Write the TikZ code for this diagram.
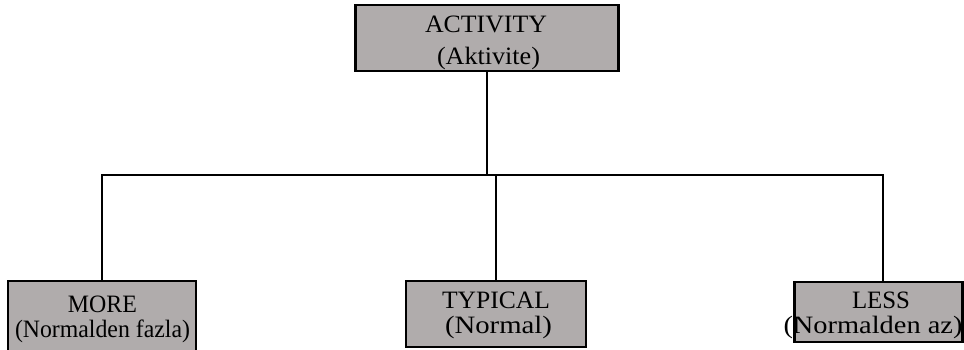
\documentclass[tikz,border=0pt]{standalone}
\usepackage{fontspec}
\setmainfont{Liberation Serif}
\usepackage{graphicx}
% set a line of text at a given width, keeping its height
\newcommand{\fitw}[2]{\resizebox{#1}{\height}{#2}}
\definecolor{boxgray}{RGB}{176,172,172}
\tikzset{
  catbox/.style={draw=black, fill=boxgray, line width=2.5pt, rectangle, inner sep=0pt, outer sep=0pt},
  catline/.style={anchor=base, inner sep=0pt, font=\fontsize{25}{30}\selectfont},
  link/.style={draw=black, line width=2.5pt, line join=miter}
}
\begin{document}
\begin{tikzpicture}[x=1pt, y=-1pt]
  \useasboundingbox (0,0) rectangle (964,350);
  \clip (0,0) rectangle (964,350);

  % boxes
  \node[catbox, minimum width=263pt, minimum height=66pt] (act) at (487,38) {};
  \node[catbox, minimum width=188pt, minimum height=80pt] (more) at (102,321) {};
  \node[catbox, minimum width=180pt, minimum height=66pt] (typ) at (496,314) {};
  \node[catbox, minimum width=168pt, minimum height=60pt] (less) at (878.5,312) {};

  % labels
  \node[catline] (actA) at (486,33) {\fitw{122pt}{ACTIVITY}};
  \node[catline] (actB) at (488.5,65) {\fitw{103pt}{(Aktivite)}};
  \node[catline] (moreA) at (102.5,312) {\fitw{69pt}{MORE}};
  \node[catline] (moreB) at (102.5,337) {\fitw{175pt}{(Normalden fazla)}};
  \node[catline] (typA) at (496,308) {\fitw{108pt}{TYPICAL}};
  \node[catline] (typB) at (498.5,333) {\fitw{107pt}{(Normal)}};
  \node[catline] (lessA) at (881,308) {\fitw{58pt}{LESS}};
  \node[catline] (lessB) at (873,333) {\fitw{179pt}{(Normalden az)}};

  % branching connectors
  \coordinate (hl) at (102,175);
  \coordinate (hr) at (883,175);
  \draw[link] (act.south) -- (act.south |- hl);
  \draw[link] (more.north) -- (hl) -- (hr) -- (hr |- less.north);
  \draw[link] (typ.north) -- (typ.north |- hl);
\end{tikzpicture}
\end{document}
